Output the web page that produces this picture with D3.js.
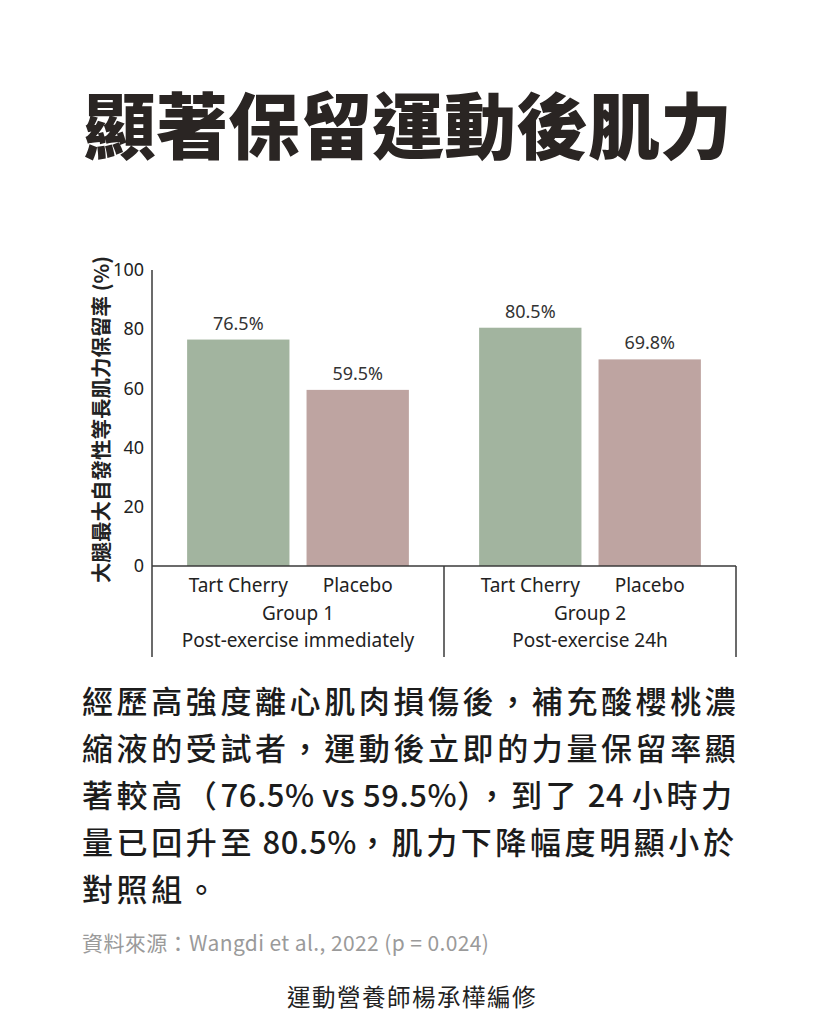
<!DOCTYPE html>
<html>
<head>
<meta charset="utf-8">
<script src="https://cdn.jsdelivr.net/npm/d3@7"></script>
<style>
  html, body { margin: 0; padding: 0; background: #fff; }
  svg { display: block; }
</style>
</head>
<body>
<div id="chart"></div>
<script>
// ---- data ----
const groups = ["Group 1", "Group 2"];
const groupSubtitles = ["Post-exercise immediately", "Post-exercise 24h"];
const treatments = ["Tart Cherry", "Placebo"];
const tartCherryValues = [76.5, 80.5];
const placeboValues = [59.5, 69.8];
const yTicks = [0, 20, 40, 60, 80, 100];

const titleText = "顯著保留運動後肌力";
const yLabel = "大腿最大自發性等長肌力保留率 (%)";
const bodyLines = [
    "經歷高強度離心肌肉損傷後，補充酸櫻桃濃",
    "縮液的受試者，運動後立即的力量保留率顯",
    "著較高（76.5% vs 59.5%），到了 24 小時力",
    "量已回升至 80.5%，肌力下降幅度明顯小於",
    "對照組。"
];
const sourceText = "資料來源：Wangdi et al., 2022 (p = 0.024)";
const creditText = "運動營養師楊承樺編修";

const W = 825, H = 1024;
const colors = { "Tart Cherry": "#a2b49f", "Placebo": "#bea4a1" };
const cjk = "'Noto Sans CJK TC', 'Noto Sans', sans-serif";
const latin = "'Noto Sans', 'Noto Sans CJK TC', sans-serif";

const svg = d3.select("#chart").append("svg")
    .attr("width", W).attr("height", H);

// title
svg.append("text")
    .attr("x", 408).attr("y", 127)
    .attr("dy", "0.36em")
    .attr("text-anchor", "middle")
    .style("font-family", cjk)
    .style("font-weight", 900)
    .style("font-size", "72px")
    .style("fill", "#2a2523")
    .text(titleText);

// ---- chart ----
const x0 = 152, x1 = 736, yTop = 270, yBase = 566, yBottom = 657;

const gx = d3.scaleBand().domain(groups).range([x0, x1]);
const bx = d3.scaleBand().domain(treatments)
    .range([0, gx.bandwidth()])
    .paddingInner(0.143).paddingOuter(0.294);
const y = d3.scaleLinear().domain([0, 100]).range([yBase, yTop]);

const rows = groups.flatMap((g, i) => [
    { group: g, treat: "Tart Cherry", value: tartCherryValues[i] },
    { group: g, treat: "Placebo", value: placeboValues[i] }
]);

// bars
svg.append("g").selectAll("rect")
    .data(rows).join("rect")
    .attr("x", d => gx(d.group) + bx(d.treat))
    .attr("y", d => y(d.value))
    .attr("width", bx.bandwidth())
    .attr("height", d => y(0) - y(d.value))
    .attr("fill", d => colors[d.treat]);

// value labels
svg.append("g").selectAll("text")
    .data(rows).join("text")
    .attr("x", d => gx(d.group) + bx(d.treat) + bx.bandwidth() / 2)
    .attr("y", d => y(d.value) - 10)
    .attr("text-anchor", "middle")
    .style("font-family", latin)
    .style("font-size", "18px")
    .style("fill", "#333")
    .text(d => d.value.toFixed(1) + "%");

// y axis (no tick marks, labels only)
const yAxis = svg.append("g")
    .attr("transform", `translate(${x0},0)`)
    .call(d3.axisLeft(y).tickValues(yTicks).tickSize(0).tickPadding(8));
yAxis.select(".domain").remove();
yAxis.selectAll("text")
    .style("font-family", latin)
    .style("font-size", "18px")
    .style("fill", "#222");

// axis lines + group separators
const lineG = svg.append("g")
    .attr("stroke", "#3a3a3a").attr("stroke-width", 1.5);
lineG.append("line")
    .attr("x1", x0).attr("x2", x0).attr("y1", yTop).attr("y2", yBottom);
lineG.append("line")
    .attr("x1", x0).attr("x2", x1).attr("y1", yBase).attr("y2", yBase);
lineG.selectAll(".sep")
    .data(groups).join("line")
    .attr("class", "sep")
    .attr("x1", d => gx(d) + gx.bandwidth())
    .attr("x2", d => gx(d) + gx.bandwidth())
    .attr("y1", yBase).attr("y2", yBottom);

// category labels
svg.append("g").selectAll("text")
    .data(rows).join("text")
    .attr("x", d => gx(d.group) + bx(d.treat) + bx.bandwidth() / 2)
    .attr("y", 585)
    .attr("dy", "0.35em")
    .attr("text-anchor", "middle")
    .style("font-family", latin)
    .style("font-size", "19px")
    .style("fill", "#222")
    .text(d => d.treat);

// group labels
const gl = svg.append("g").selectAll("g")
    .data(groups).join("g")
    .attr("transform", d => `translate(${gx(d) + gx.bandwidth() / 2},0)`);
gl.append("text")
    .attr("y", 613).attr("dy", "0.35em")
    .attr("text-anchor", "middle")
    .style("font-family", latin).style("font-size", "19px").style("fill", "#222")
    .text(d => d);
gl.append("text")
    .attr("y", 640).attr("dy", "0.35em")
    .attr("text-anchor", "middle")
    .style("font-family", latin).style("font-size", "19px").style("fill", "#222")
    .text((d, i) => groupSubtitles[i]);

// y label
svg.append("text")
    .attr("transform", `translate(102,${(257 + 582) / 2}) rotate(-90)`)
    .attr("dy", "0.35em")
    .attr("text-anchor", "middle")
    .style("font-family", cjk)
    .style("font-weight", 700)
    .style("font-size", "20.5px")
    .style("fill", "#222")
    .text(yLabel);

// ---- body text ----
// CJK runs get wider tracking than the latin runs
const isWide = /[\u3000-\u9fff\uff00-\uffef]/;
const splitRuns = s => s.match(/[\u3000-\u9fff\uff00-\uffef]+|[^\u3000-\u9fff\uff00-\uffef]+/g);

const body = svg.append("g").selectAll("text")
    .data(bodyLines).join("text")
    .attr("x", 82)
    .attr("y", (d, i) => 702 + i * 47)
    .attr("dy", "0.36em")
    .style("font-family", cjk)
    .style("font-weight", 500)
    .style("font-size", "31px")
    .style("fill", "#1c1c1c");
body.selectAll("tspan")
    .data(d => splitRuns(d))
    .join("tspan")
    .style("letter-spacing", d => isWide.test(d) ? "3.6px" : "0.6px")
    .text(d => d);

svg.append("text")
    .attr("x", 82).attr("y", 943)
    .attr("dy", "0.36em")
    .style("font-family", cjk)
    .style("font-size", "21px")
    .style("letter-spacing", "0.4px")
    .style("fill", "#9a9a9a")
    .text(sourceText);

svg.append("text")
    .attr("x", 412).attr("y", 998)
    .attr("dy", "0.36em")
    .attr("text-anchor", "middle")
    .style("font-family", cjk)
    .style("font-size", "23.5px")
    .style("letter-spacing", "1.5px")
    .style("fill", "#222")
    .text(creditText);
</script>
</body>
</html>
